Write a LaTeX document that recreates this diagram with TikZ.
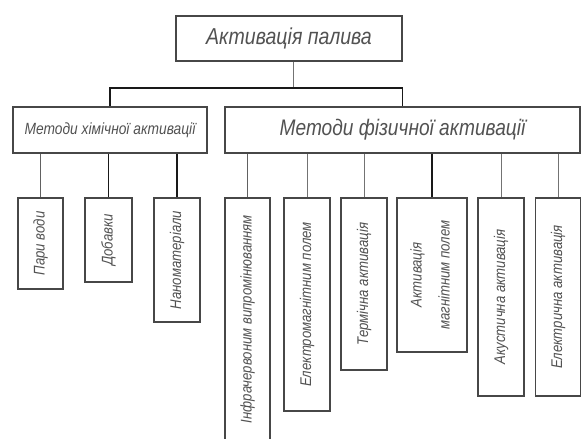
\documentclass[tikz,border=0pt]{standalone}
\usepackage{fontspec}
\setmainfont{Liberation Sans}[FakeStretch=0.85]
\begin{document}
\begin{tikzpicture}[x=1pt,y=-1pt,
  box/.style={draw=black!72, line width=1.6pt, fill=white, inner sep=0pt, text=black!68, font=\itshape},
  vbox/.style={box, font=\itshape\fontsize{15.5}{18}\selectfont},
  conthick/.style={draw=black!62, line width=1.8pt},
  condark/.style={draw=black!90, line width=1.1pt},
  conthin/.style={draw=black!55, line width=0.7pt}]
\clip (0,0) rectangle (581,439);
\fill[white] (0,0) rectangle (581,439);
% level 1
\node[box, minimum width=226pt, minimum height=45pt, font=\itshape\fontsize{23}{26}\selectfont] (top) at (289,38.5) {Активація палива};
% level 2
\node[box, minimum width=194pt, minimum height=46pt, font=\itshape\fontsize{16.2}{19}\selectfont] (lm) at (110,130) {Методи хімічної активації};
\node[box, minimum width=355pt, minimum height=46pt, font=\itshape\fontsize{22.5}{26}\selectfont] (rm) at (402.5,130) {Методи фізичної активації};
% level 3 left
\node[vbox, minimum width=45pt, minimum height=91pt] (l1) at (40.5,243.5) {\rotatebox{90}{Пари води}};
\node[vbox, minimum width=47pt, minimum height=84pt] (l2) at (108.5,240) {\rotatebox{90}{Добавки}};
\node[vbox, minimum width=46pt, minimum height=124pt] (l3) at (177,260) {\rotatebox{90}{Наноматеріали}};
% level 3 right
\node[vbox, minimum width=45pt, minimum height=242pt] (r1) at (247.5,319) {\rotatebox{90}{Інфрачервоним випромінюванням}};
\node[vbox, minimum width=46pt, minimum height=213pt] (r2) at (307,304.5) {\rotatebox{90}{Електромагнітним полем}};
\node[vbox, minimum width=46pt, minimum height=172pt] (r3) at (364,284) {\rotatebox{90}{Термічна активація}};
\node[vbox, minimum width=70pt, minimum height=154pt] (r4) at (432,275) {\rotatebox{90}{\begin{tabular}{@{}c@{}}Активація\\[10pt]магнітним полем\end{tabular}}};
\node[vbox, minimum width=46pt, minimum height=198pt] (r5) at (501,297) {\rotatebox{90}{Акустична активація}};
\node[vbox, minimum width=45pt, minimum height=198pt] (r6) at (558,297) {\rotatebox{90}{Електрична активація}};
% connectors
\coordinate (bus) at (293,88);
\draw[conthin, line width=1pt] ([xshift=4pt]top.south) -- (bus);
\draw[condark] (lm.north) |- (bus) -| (rm.north);
\draw[conthick] (l1.north |- lm.south) -- (l1.north);
\draw[condark] (l2.north |- lm.south) -- (l2.north);
\draw[condark] (l3.north |- lm.south) -- (l3.north);
\draw[conthick] (r1.north |- rm.south) -- (r1.north);
\draw[conthin] (r2.north |- rm.south) -- (r2.north);
\draw[conthin] (r3.north |- rm.south) -- (r3.north);
\draw[condark] (r4.north |- rm.south) -- (r4.north);
\draw[conthin] (r5.north |- rm.south) -- (r5.north);
\draw[conthin] (r6.north |- rm.south) -- (r6.north);
\end{tikzpicture}
\end{document}
